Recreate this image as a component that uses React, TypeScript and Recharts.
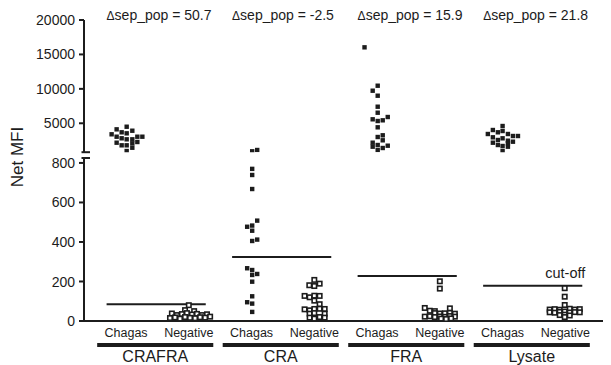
import React from 'react';
import { ScatterChart, Scatter, XAxis, YAxis, ReferenceLine, ReferenceDot } from 'recharts';

// ---------- data ----------
const groups = ['CRAFRA', 'CRA', 'FRA', 'Lysate'];
const populations = ['Chagas', 'Negative'];
const deltaSepPop = ['50.7', '-2.5', '15.9', '21.8'];
const cutoffs = [85, 324, 228, 179];
const upperTicks = [5000, 10000, 15000, 20000];
const lowerTicks = [0, 200, 400, 600, 800];

const crafraChagas = [4500, 4120, 3920, 3690, 3540, 3400, 3050, 3050, 3050, 2820, 2670, 2670, 2280, 2180, 2090, 1800, 1800, 1450, 970];
const crafraChagasJitter = [0.01, -0.15, 0.1, -0.07, 0.01, -0.23, -0.15, 0.18, 0.26, -0.07, 0.01, 0.1, 0.18, -0.15, 0.1, -0.07, 0.01, 0.1, 0.01];
const crafraNegative = [80, 55, 50, 38, 30, 35, 40, 33, 36, 30, 34, 15, 18, 12, 20, 16, 14, 19, 17, 22];
const crafraNegativeJitter = [0.0, -0.06, 0.085, -0.27, -0.19, -0.11, -0.03, 0.05, 0.13, 0.21, 0.29, -0.3, -0.22, -0.14, -0.06, 0.02, 0.1, 0.18, 0.26, 0.34];

const craChagas = [1120, 930, 770, 739, 668, 508, 483, 477, 457, 412, 405, 267, 258, 238, 233, 199, 125, 95, 88, 46];
const craChagasJitter = [0.09, 0.01, 0.01, 0.01, 0.01, 0.09, 0.01, -0.07, 0.01, 0.09, 0.01, -0.07, 0.01, 0.09, 0.01, 0.01, 0.01, -0.07, 0.01, 0.01];
const craNegative = [208, 181, 177, 189, 127, 120, 128, 127, 103, 85, 59, 54, 61, 62, 61, 37, 40, 37, 17, 12, 20, 17];
const craNegativeJitter = [0.0, -0.08, 0.0, 0.085, -0.155, -0.075, 0.0, 0.085, 0.0, 0.085, -0.155, -0.075, 0.0, 0.085, 0.165, -0.075, 0.0, 0.165, -0.075, 0.0, 0.085, 0.165];

const fraChagas = [16030, 10456, 9730, 9004, 7407, 6535, 5577, 5330, 5432, 5911, 4415, 3007, 3254, 2528, 2180, 1599, 1845, 1119, 1410, 1744];
const fraChagasJitter = [-0.2, 0.01, -0.07, 0.01, 0.01, 0.01, -0.07, 0.01, 0.09, 0.17, 0.01, 0.01, 0.09, 0.09, -0.07, -0.07, 0.01, 0.01, 0.09, 0.17];
const fraNegative = [201, 164, 66, 64, 52, 50, 40, 38, 39, 41, 37, 22, 24, 20, 23, 21, 25, 22, 12, 10, 13];
const fraNegativeJitter = [0.0, 0.0, -0.24, 0.16, -0.16, -0.08, -0.08, 0.0, 0.08, 0.16, 0.24, -0.24, -0.16, -0.08, 0.0, 0.08, 0.16, 0.24, 0.02, 0.1, 0.18];

const lysateChagas = [4604, 4023, 3878, 3690, 3443, 3443, 3152, 3152, 2964, 2818, 2571, 2470, 2325, 2179, 2092, 1845, 1700, 1600, 975];
const lysateChagasJitter = [0.0, -0.155, 0.0, -0.075, 0.085, -0.235, 0.165, 0.245, -0.155, 0.0, -0.075, 0.085, 0.165, -0.155, 0.085, -0.075, 0.0, 0.085, 0.0];
const lysateNegative = [166, 123, 81, 58, 60, 57, 62, 58, 60, 44, 42, 46, 48, 43, 45, 44, 30, 32, 28, 20];
const lysateNegativeJitter = [-0.01, -0.01, -0.01, -0.25, -0.17, -0.09, 0.07, 0.15, 0.23, -0.25, -0.17, -0.09, -0.01, 0.07, 0.15, 0.23, -0.09, -0.01, 0.07, -0.01];

const chagasSets = [
  [crafraChagas, crafraChagasJitter],
  [craChagas, craChagasJitter],
  [fraChagas, fraChagasJitter],
  [lysateChagas, lysateChagasJitter],
];
const negativeSets = [
  [crafraNegative, crafraNegativeJitter],
  [craNegative, craNegativeJitter],
  [fraNegative, fraNegativeJitter],
  [lysateNegative, lysateNegativeJitter],
];

// ---------- build points ----------
const BREAK = 800;
const toPoints = (sets: number[][][], pop: number) =>
  sets.flatMap(([vals, jit], g) => vals.map((v, k) => ({ x: 2 * g + pop + jit[k], y: v })));
const chagasPts = toPoints(chagasSets, 0);
const negativePts = toPoints(negativeSets, 1);
const upperChagas = chagasPts.filter((p) => p.y > BREAK);
const lowerChagas = chagasPts.filter((p) => p.y <= BREAK);
const upperNegative = negativePts.filter((p) => p.y > BREAK);
const lowerNegative = negativePts.filter((p) => p.y <= BREAK);

// ---------- styles ----------
const INK = '#1c1c1c';
const FONT = '"Liberation Sans", Arial, Helvetica, sans-serif';
const X_DOMAIN: [number, number] = [-0.67, 7.6];
const W = 611;
const H = 365;
const CUT_START = -0.31;
const CUT_END = 1.27;
const BAR_START = -0.46;
const BAR_END = 1.39;
const BAR_Y = -121.5;
const UPPER_CAP = 800;
const LOWER_CAP = 825;

const FilledSquare = (p: any) => (
  <rect x={p.cx - 2.2} y={p.cy - 2.2} width={4.4} height={4.4} fill={INK} />
);
const HollowSquare = (p: any) => (
  <rect x={p.cx - 2.2} y={p.cy - 2.2} width={4.4} height={4.4} fill="#fff" stroke={INK} strokeWidth={1.6} />
);

const makeYTick = (cap: number) => (props: any) => {
  const { x, y, payload } = props;
  const ax = x + 9;
  if (payload.value === cap) {
    return <line x1={ax - 2.5} x2={ax + 6} y1={y} y2={y} stroke={INK} strokeWidth={2} />;
  }
  return (
    <g>
      <line x1={ax - 5} x2={ax} y1={y} y2={y} stroke={INK} strokeWidth={2} />
      <text x={x} y={y} dy="0.36em" textAnchor="end" fontSize={14} fill={INK} fontFamily={FONT}>
        {payload.value}
      </text>
    </g>
  );
};
const UpperTick = makeYTick(UPPER_CAP);
const LowerTick = makeYTick(LOWER_CAP);

const XTick = (props: any) => {
  const { x, y, payload } = props;
  return (
    <text x={x} y={y + 15.5} textAnchor="middle" fontSize={12.5} fill={INK} fontFamily={FONT}>
      {populations[Math.round(payload.value) % 2]}
    </text>
  );
};

const GroupLabel = (props: any) => {
  const { viewBox, text } = props;
  return (
    <text x={viewBox.x + viewBox.width / 2} y={viewBox.y + 16.5} textAnchor="middle" fontSize={16} fill={INK} fontFamily={FONT}>
      {text}
    </text>
  );
};

const CutoffLabel = (props: any) => {
  const { viewBox } = props;
  return (
    <text x={viewBox.x + viewBox.width + 3} y={viewBox.y - 8} textAnchor="end" fontSize={14.5} fill={INK} fontFamily={FONT}>
      cut-off
    </text>
  );
};

const DeltaLabel = (props: any) => {
  const { viewBox, value } = props;
  return (
    <text x={viewBox.x} y={viewBox.y} fontSize={14} fill={INK} fontFamily={FONT}>
      <tspan fontSize={12}>Δ</tspan>
      {`sep_pop = ${value}`}
    </text>
  );
};

const NetLabel = () => (
  <text transform="translate(16.5,157) rotate(-90)" textAnchor="middle" dy="0.36em" fontSize={17} fill={INK} fontFamily={FONT}>
    Net MFI
  </text>
);

export default function App() {
  return (
    <div style={{ position: 'absolute', left: 0, top: 0, width: W, height: H, background: '#fff' }}>
      {/* lower segment */}
      <div style={{ position: 'absolute', left: 0, top: 0 }}>
        <ScatterChart width={W} height={H} margin={{ top: 158, right: 8, bottom: 0, left: 0 }}>
          <XAxis
            type="number"
            dataKey="x"
            domain={X_DOMAIN}
            allowDataOverflow
            ticks={[0, 1, 2, 3, 4, 5, 6, 7]}
            interval={0}
            tick={<XTick />}
            tickLine={false}
            tickSize={0}
            tickMargin={0}
            height={44}
            axisLine={{ stroke: INK, strokeWidth: 2 }}
          />
          <YAxis
            type="number"
            dataKey="y"
            domain={[0, LOWER_CAP]}
            allowDataOverflow
            ticks={[...lowerTicks, LOWER_CAP]}
            interval={0}
            width={84}
            tickLine={false}
            tickSize={5}
            tickMargin={4}
            tick={<LowerTick />}
            axisLine={{ stroke: INK, strokeWidth: 2 }}
            label={<NetLabel />}
          />
          {cutoffs.map((c, g) => (
            <ReferenceLine
              key={`cut${g}`}
              segment={[
                { x: 2 * g + CUT_START, y: c },
                { x: 2 * g + CUT_END, y: c },
              ]}
              stroke={INK}
              strokeWidth={2}
              ifOverflow="visible"
              label={g === groups.length - 1 ? <CutoffLabel /> : undefined}
            />
          ))}
          {groups.map((name, g) => (
            <ReferenceLine
              key={`bar${g}`}
              segment={[
                { x: 2 * g + BAR_START, y: BAR_Y },
                { x: 2 * g + BAR_END, y: BAR_Y },
              ]}
              stroke={INK}
              strokeWidth={4}
              ifOverflow="visible"
              label={<GroupLabel text={name} />}
            />
          ))}
          <Scatter data={lowerChagas} shape={<FilledSquare />} isAnimationActive={false} />
          <Scatter data={lowerNegative} shape={<HollowSquare />} isAnimationActive={false} />
        </ScatterChart>
      </div>
      {/* upper segment */}
      <div style={{ position: 'absolute', left: 0, top: 0 }}>
        <ScatterChart width={W} height={H} margin={{ top: 20, right: 8, bottom: H - 152.2, left: 0 }}>
          <XAxis type="number" dataKey="x" domain={X_DOMAIN} allowDataOverflow hide />
          <YAxis
            type="number"
            dataKey="y"
            domain={[UPPER_CAP, 20000]}
            allowDataOverflow
            ticks={[UPPER_CAP, ...upperTicks]}
            interval={0}
            width={84}
            tickLine={false}
            tickSize={5}
            tickMargin={4}
            tick={<UpperTick />}
            axisLine={{ stroke: INK, strokeWidth: 2 }}
          />
          {deltaSepPop.map((d, g) => (
            <ReferenceDot
              key={`d${g}`}
              x={2 * g + CUT_START}
              y={20000}
              r={0}
              fill="none"
              stroke="none"
              ifOverflow="visible"
              label={<DeltaLabel value={d} />}
            />
          ))}
          <Scatter data={upperChagas} shape={<FilledSquare />} isAnimationActive={false} />
          <Scatter data={upperNegative} shape={<HollowSquare />} isAnimationActive={false} />
        </ScatterChart>
      </div>
    </div>
  );
}
